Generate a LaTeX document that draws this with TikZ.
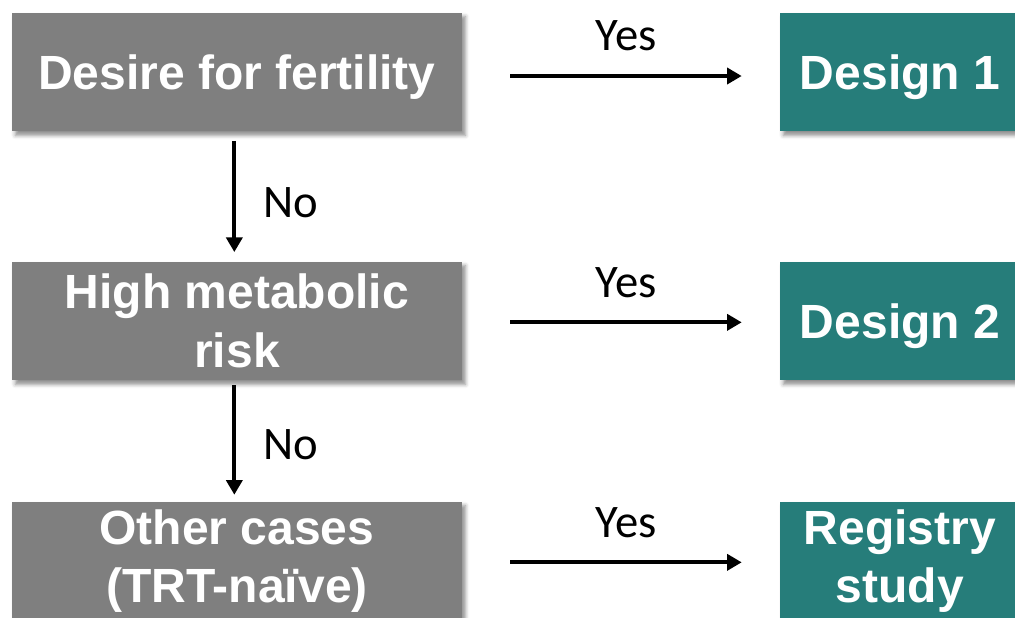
\documentclass[tikz,border=0pt]{standalone}
\usepackage{fontspec}
\setmainfont{Liberation Sans}
\newfontfamily\labelfont{Carlito}
\usetikzlibrary{arrows.meta,shadows.blur}
\definecolor{boxgray}{RGB}{127,127,127}
\definecolor{boxteal}{RGB}{38,125,122}

\begin{document}
\begin{tikzpicture}[x=0.75pt,y=-0.75pt,
  askbox/.style={fill=boxgray,text=white,font=\fontsize{36}{44}\selectfont\bfseries,
    align=center,minimum width=337.5pt,minimum height=89pt,inner sep=0pt,
    blur shadow={shadow xshift=2.5pt,shadow yshift=-3pt,shadow blur radius=3pt,shadow opacity=45}},
  designbox/.style={askbox,fill=boxteal,minimum width=180pt},
  oneline/.style={text depth=0pt},
  flow/.style={line width=2.8pt,-{Triangle[length=11pt,width=12pt]}},
  answer/.style={font=\labelfont\fontsize{35}{40}\selectfont}]
\useasboundingbox (0,0) rectangle (1015,618);

% questions
\node[askbox,oneline] (fert) at (237,72) {Desire for fertility};
\node[askbox] (meta) at (237,321) {High metabolic\\risk};
\node[askbox] (other) at (237,561) {Other cases\\(TRT-naïve)};

% outcomes
\node[designbox,oneline] (des1) at (900,72) {Design 1};
\node[designbox,oneline] (des2) at (900,321) {Design 2};
\node[designbox] (reg) at (900,561) {Registry\\study};

% yes branches
\draw[flow,shorten <=36pt,shorten >=28.5pt] ([yshift=-3pt]fert.east) -- node[answer,above=14pt,xshift=4pt]{Yes} ([yshift=-3pt]des1.west);
\draw[flow,shorten <=36pt,shorten >=28.5pt] ([yshift=-1pt]meta.east) -- node[answer,above=14pt,xshift=4pt]{Yes} ([yshift=-1pt]des2.west);
\draw[flow,shorten <=36pt,shorten >=28.5pt] ([yshift=-1pt]other.east) -- node[answer,above=14pt,xshift=4pt]{Yes} ([yshift=-1pt]reg.west);

% no branches
\draw[flow,shorten <=7pt,shorten >=7pt] ([xshift=-2pt]fert.south) -- node[answer,right=17pt,yshift=-5pt]{No} ([xshift=-2pt]meta.north);
\draw[flow,shorten <=3.5pt,shorten >=5pt] ([xshift=-2pt]meta.south) -- node[answer,right=17pt,yshift=-3pt]{No} ([xshift=-2pt]other.north);
\end{tikzpicture}
\end{document}
